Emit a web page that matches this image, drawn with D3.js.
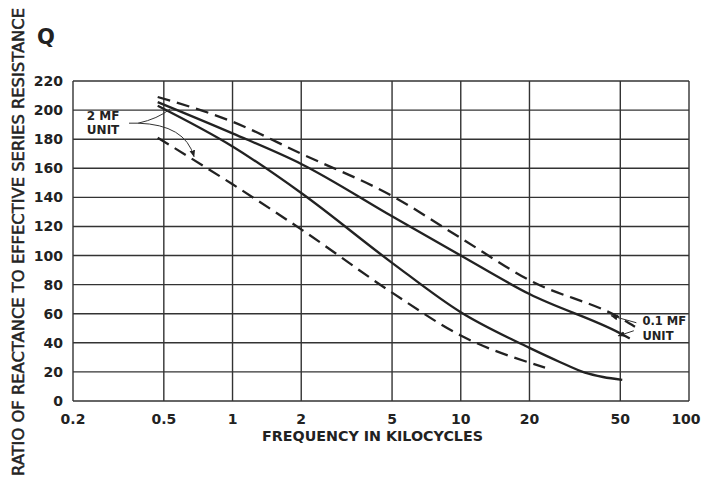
<!DOCTYPE html>
<html>
<head>
<meta charset="utf-8">
<script src="https://cdn.jsdelivr.net/npm/d3@7/dist/d3.min.js"></script>
<style>
  html, body { margin: 0; padding: 0; background: #ffffff; }
  svg { display: block; }
  text { font-family: "DejaVu Sans", "Liberation Sans", sans-serif; font-weight: bold; fill: #222; }
</style>
</head>
<body>
<script>
// ---- data ----
const xTicks = [0.2, 0.5, 1, 2, 5, 10, 20, 50, 100];
const xTickLabels = ["0.2", "0.5", "1", "2", "5", "10", "20", "50", "100"];
const yTicks = [0, 20, 40, 60, 80, 100, 120, 140, 160, 180, 200, 220];

// 0.1 MF unit
const upperDashedFreq = [0.47, 1, 2, 5, 10, 20, 50, 58];
const upperDashedQ    = [209, 192, 170, 141, 112, 83, 57, 51];
const upperSolidFreq  = [0.47, 1, 2, 5, 10, 20, 50, 55];
const upperSolidQ     = [205.5, 184, 163, 127, 100, 73.5, 46.5, 43];
// 2 MF unit
const lowerSolidFreq  = [0.47, 1, 2, 5, 10, 20, 27, 35, 42, 51];
const lowerSolidQ     = [203, 175, 143, 95, 61, 36.5, 27, 19.5, 16.5, 14.5];
const lowerDashedFreq = [0.47, 1, 2, 5, 10, 23.4];
const lowerDashedQ    = [181, 149, 118, 74.5, 45, 23];

const W = 702, H = 490;
const svg = d3.select("body").append("svg").attr("width", W).attr("height", H);

const x = d3.scaleLog().domain([0.2, 100]).range([73, 689]);
const y = d3.scaleLinear().domain([0, 220]).range([401, 81]);

svg.append("defs").append("marker")
  .attr("id", "arr").attr("viewBox", "0 0 10 10").attr("refX", 9).attr("refY", 5)
  .attr("markerWidth", 7).attr("markerHeight", 7).attr("orient", "auto")
  .append("path").attr("d", "M0,1 L10,5 L0,9 Z").attr("fill", "#222");

const grid = svg.append("g").attr("stroke", "#333").attr("stroke-width", 1.4).attr("fill", "none");
grid.selectAll("line.v").data(xTicks).enter().append("line")
  .attr("x1", d => x(d)).attr("x2", d => x(d)).attr("y1", y(0)).attr("y2", y(220));
grid.selectAll("line.h").data(yTicks).enter().append("line")
  .attr("x1", x(0.2)).attr("x2", x(100)).attr("y1", d => y(d)).attr("y2", d => y(d));

// tick labels
svg.append("g").selectAll("text").data(yTicks).enter().append("text")
  .attr("x", 63).attr("y", d => y(d)).attr("dy", "0.36em").attr("text-anchor", "end")
  .style("font-size", "14px").text(d => d);
svg.append("g").selectAll("text").data(xTicks).enter().append("text")
  .attr("x", d => Math.min(x(d), W - 16)).attr("y", 424).attr("text-anchor", "middle")
  .style("font-size", "14px").text((d, i) => xTickLabels[i]);

// axis titles
svg.append("text").attr("x", 262).attr("y", 441).attr("textLength", 221)
  .attr("lengthAdjust", "spacingAndGlyphs").style("font-size", "14px")
  .text("FREQUENCY IN KILOCYCLES");
svg.append("text").attr("transform", "translate(24,476) rotate(-90)")
  .attr("textLength", 468).attr("lengthAdjust", "spacingAndGlyphs")
  .style("font-size", "16px").style("font-weight", "normal").style("stroke", "#222").style("stroke-width", 0.5)
  .text("RATIO OF REACTANCE TO EFFECTIVE SERIES RESISTANCE");
svg.append("text").attr("x", 46).attr("y", 44).attr("text-anchor", "middle")
  .style("font-size", "21px").text("Q");

// curves
const line = d3.line().x(d => x(d[0])).y(d => y(d[1])).curve(d3.curveMonotoneX);
const series = [
  { f: upperDashedFreq, q: upperDashedQ, dash: "13,7" },
  { f: upperSolidFreq,  q: upperSolidQ,  dash: null },
  { f: lowerSolidFreq,  q: lowerSolidQ,  dash: null },
  { f: lowerDashedFreq, q: lowerDashedQ, dash: "13,7" }
];
series.forEach(s => {
  svg.append("path").datum(s.f.map((f, i) => [f, s.q[i]]))
    .attr("d", line).attr("fill", "none").attr("stroke", "#222")
    .attr("stroke-width", 2.3).attr("stroke-dasharray", s.dash);
});

// annotations (data coordinates)
const ann = svg.append("g").attr("fill", "none").attr("stroke", "#333").attr("stroke-width", 1);
ann.append("path").attr("d", `M${x(0.352)},${y(191)} L${x(0.386)},${y(191)} Q${x(0.47)},${y(194)} ${x(0.532)},${y(200.7)}`);
ann.append("path").attr("d", `M${x(0.386)},${y(191)} Q${x(0.62)},${y(190)} ${x(0.678)},${y(168)}`)
  .attr("marker-end", "url(#arr)");
ann.append("path").attr("d", `M${x(58.8)},${y(53.8)} L${x(45.6)},${y(58.6)}`).attr("marker-end", "url(#arr)");
ann.append("path").attr("d", `M${x(57.3)},${y(48.3)} L${x(49)},${y(44.8)}`).attr("marker-end", "url(#arr)");

svg.append("text").attr("x", x(0.23)).attr("y", y(196.5)).attr("dy", "0.36em")
  .style("font-size", "12px").text("2 MF");
svg.append("text").attr("x", x(0.23)).attr("y", y(186.5)).attr("dy", "0.36em")
  .style("font-size", "12px").text("UNIT");
svg.append("text").attr("x", x(62.5)).attr("y", y(55)).attr("dy", "0.36em")
  .style("font-size", "11.5px").text("0.1 MF");
svg.append("text").attr("x", x(62.5)).attr("y", y(45)).attr("dy", "0.36em")
  .style("font-size", "11.5px").text("UNIT");
</script>
</body>
</html>
